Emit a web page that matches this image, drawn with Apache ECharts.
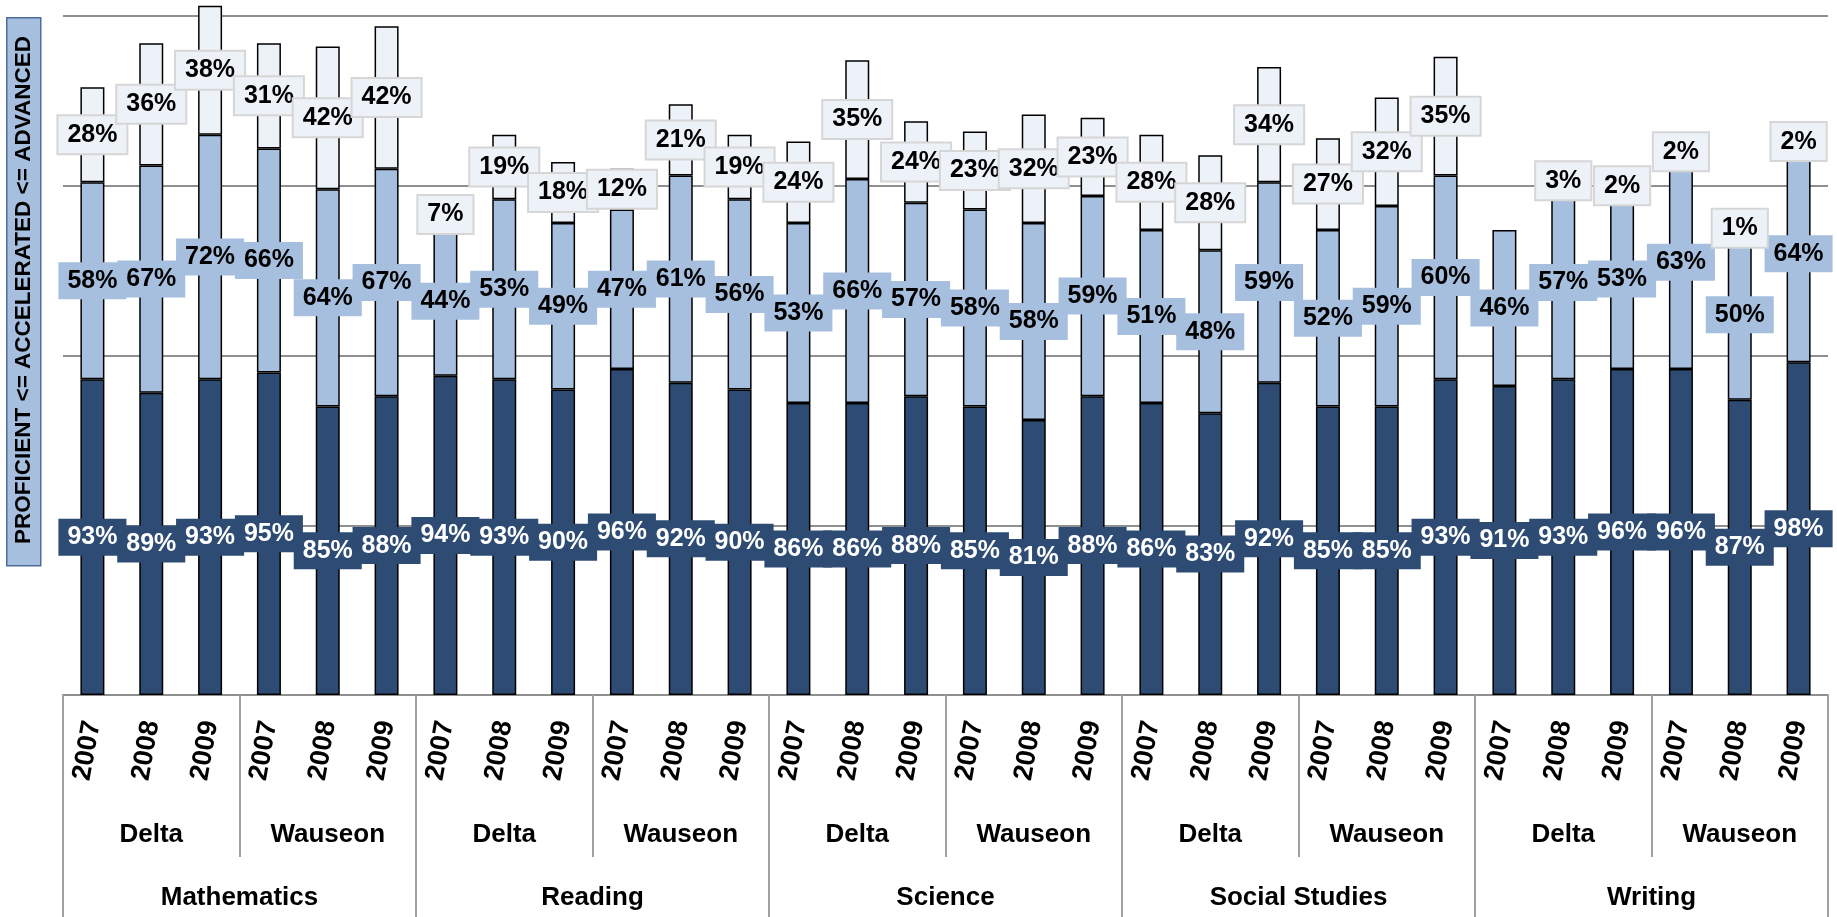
<!DOCTYPE html>
<html>
<head>
<meta charset="utf-8">
<script src="https://cdn.jsdelivr.net/npm/echarts@6/dist/echarts.min.js"></script>
<style>
  html, body { margin: 0; padding: 0; background: #fff; }
  #chart { width: 1837px; height: 917px; }
</style>
</head>
<body>
<div id="chart"></div>
<script>
// category labels, three levels
const years = [
  '2007', '2008', '2009', '2007', '2008', '2009',
  '2007', '2008', '2009', '2007', '2008', '2009',
  '2007', '2008', '2009', '2007', '2008', '2009',
  '2007', '2008', '2009', '2007', '2008', '2009',
  '2007', '2008', '2009', '2007', '2008', '2009'
]
const schools = ['Delta', 'Wauseon', 'Delta', 'Wauseon', 'Delta', 'Wauseon', 'Delta', 'Wauseon', 'Delta', 'Wauseon']
const subjects = ['Mathematics', 'Reading', 'Science', 'Social Studies', 'Writing']

// percentages per level (stacked)
const proficient = [
  93, 89, 93, 95, 85, 88,
  94, 93, 90, 96, 92, 90,
  86, 86, 88, 85, 81, 88,
  86, 83, 92, 85, 85, 93,
  91, 93, 96, 96, 87, 98
]
const accelerated = [
  58, 67, 72, 66, 64, 67,
  44, 53, 49, 47, 61, 56,
  53, 66, 57, 58, 58, 59,
  51, 48, 59, 52, 59, 60,
  46, 57, 53, 63, 50, 64
]
const advanced = [
  28, 36, 38, 31, 42, 42,
  7, 19, 18, 12, 21, 19,
  24, 35, 24, 23, 32, 23,
  28, 28, 34, 27, 32, 35,
  null, 3, 2, 2, 1, 2
]

const FONT = '"Liberation Sans", Arial, sans-serif'
const GRAY = '#8f8f8f'

function levelSeries(name, data, fill, textColor, labelBorder) {
  return {
    name: name,
    type: 'bar',
    stack: 'total',
    data: data,
    barWidth: 24,
    clip: false,
    itemStyle: { color: fill, borderColor: '#000', borderWidth: 1.5 },
    label: {
      show: true,
      position: 'inside',
      formatter: p => p.value + '%',
      color: textColor,
      fontFamily: FONT,
      fontWeight: 'bold',
      fontSize: 25,
      lineHeight: 25,
      backgroundColor: fill,
      borderColor: labelBorder || fill,
      borderWidth: labelBorder ? 2 : 0,
      padding: [6, 9, 6, 9]
    }
  }
}

const chart = echarts.init(document.getElementById('chart'))
chart.setOption({
  animation: false,
  grid: { left: 63, right: 9, top: 16, bottom: 222, containLabel: false },
  xAxis: [
    {
      type: 'category',
      data: years,
      position: 'bottom',
      axisLine: { show: true, lineStyle: { color: GRAY, width: 2 } },
      axisTick: { show: false },
      axisLabel: {
        interval: 0,
        rotate: 80,
        margin: 26,
        color: '#000',
        fontFamily: FONT,
        fontWeight: 'bold',
        fontSize: 27
      }
    },
    {
      type: 'category',
      data: schools,
      position: 'bottom',
      axisLine: { show: false },
      axisTick: { show: true, length: 162, lineStyle: { color: '#a0a0a0', width: 2 } },
      axisLabel: {
        interval: 0,
        margin: 127,
        color: '#000',
        fontFamily: FONT,
        fontWeight: 'bold',
        fontSize: 26
      }
    },
    {
      type: 'category',
      data: subjects,
      position: 'bottom',
      axisLine: { show: false },
      axisTick: { show: true, length: 230, lineStyle: { color: '#a0a0a0', width: 2 } },
      axisLabel: {
        interval: 0,
        margin: 190,
        color: '#000',
        fontFamily: FONT,
        fontWeight: 'bold',
        fontSize: 26
      }
    }
  ],
  yAxis: {
    type: 'value',
    min: 0,
    max: 200,
    interval: 50,
    axisLine: { show: false },
    axisTick: { show: false },
    axisLabel: { show: false },
    splitLine: { lineStyle: { color: GRAY, width: 2 } }
  },
  graphic: [
    {
      type: 'rect',
      left: 6,
      top: 17,
      shape: { width: 34, height: 548 },
      style: { fill: '#A7BFDE', stroke: '#4d6d98', lineWidth: 1.5 }
    },
    {
      type: 'text',
      x: 24,
      y: 290,
      rotation: Math.PI / 2,
      style: {
        text: 'PROFICIENT <= ACCELERATED <= ADVANCED',
        fill: '#000',
        font: 'bold 22.5px ' + FONT,
        textAlign: 'center',
        textVerticalAlign: 'middle'
      }
    }
  ],
  series: [
    levelSeries('Proficient', proficient, '#2E4C73', '#fff'),
    levelSeries('Accelerated', accelerated, '#A7BFDE', '#000'),
    levelSeries('Advanced', advanced, '#EDF2F9', '#000', '#d6d6d6')
  ]
})
</script>
</body>
</html>
